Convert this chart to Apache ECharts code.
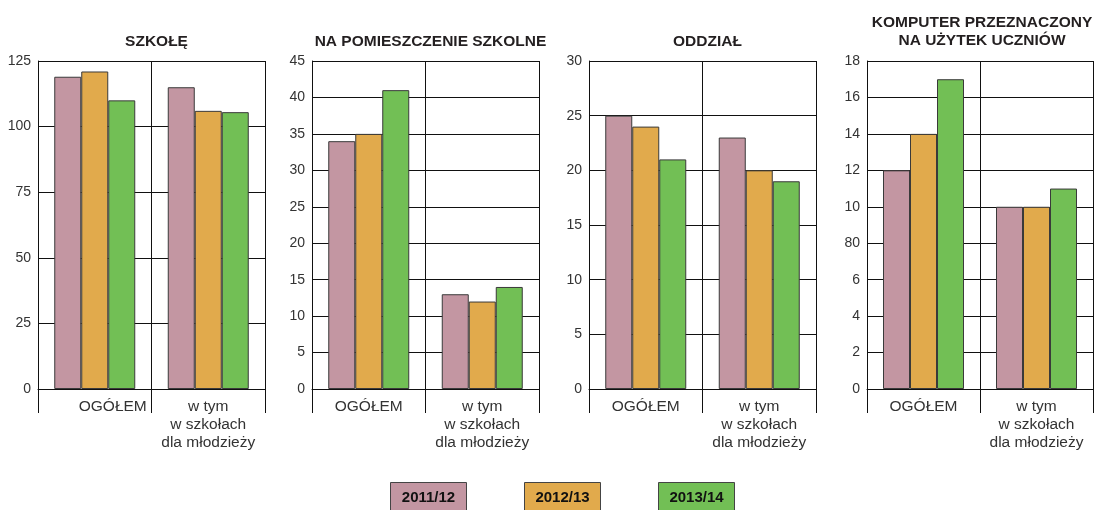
<!DOCTYPE html>
<html>
<head>
<meta charset="utf-8">
<script src="https://cdn.jsdelivr.net/npm/echarts@6/dist/echarts.min.js"></script>
<style>
  html, body { margin: 0; padding: 0; background: #fff; }
  #chart { width: 1101px; height: 510px; }
</style>
</head>
<body>
<div id="chart"></div>
<script>
// dane
const years = ['2011/12', '2012/13', '2013/14']
const categories = ['OGÓŁEM', 'w tym\nw szkołach\ndla młodzieży']
const titles = ['SZKOŁĘ', 'NA POMIESZCZENIE SZKOLNE', 'ODDZIAŁ', 'KOMPUTER PRZEZNACZONY\nNA UŻYTEK UCZNIÓW']

const szkole = [[119, 115], [121, 106], [110, 105.5]]
const pomieszczenie = [[34, 13], [35, 12], [41, 14]]
const oddzial = [[25, 23], [24, 20], [21, 19]]
const komputer = [[12, 10], [14, 10], [17, 11]]

const yMax = [125, 45, 30, 18]
const yStep = [25, 5, 5, 2]
// w oryginale przy 8 jest "80"
const komputerTicks = ['0', '2', '4', '6', '80', '10', '12', '14', '16', '18']

const colors = ['#c396a2', '#e1aa4c', '#72bf55']
const panelData = [szkole, pomieszczenie, oddzial, komputer]
const gridLeft = [38, 312, 589, 867]
const gridWidth = [227, 227, 227, 226]

const font = 'Liberation Sans, Arial, sans-serif'

const grids = [], xAxes = [], yAxes = [], series = [], titleList = []

panelData.forEach((data, p) => {
  grids.push({ left: gridLeft[p], top: 61, width: gridWidth[p], height: 328, show: false })
  titleList.push({
    text: titles[p],
    left: gridLeft[p] + gridWidth[p] / 2 - (p === 3 ? 3 : 0),
    top: p === 3 ? 9 : 28,
    textAlign: 'center',
    textStyle: { fontFamily: font, fontSize: 15.5, fontWeight: 'bold', color: '#231f20', lineHeight: 18 }
  })
  xAxes.push({
    type: 'category',
    gridIndex: p,
    data: categories.map((c, i) => (p === 0 && i === 0)
      ? { value: c, textStyle: { padding: [0, 0, 0, 36] } }
      : c),
    axisLine: { lineStyle: { color: '#111', width: 1 } },
    axisTick: { show: true, length: 24, lineStyle: { color: '#111' } },
    splitLine: { show: true, lineStyle: { color: '#111', width: 1 } },
    axisLabel: { fontFamily: font, fontSize: 15.5, color: '#333', margin: 9, lineHeight: 18, interval: 0 }
  })
  yAxes.push({
    type: 'value',
    gridIndex: p,
    min: 0,
    max: yMax[p],
    interval: yStep[p],
    axisLine: { show: true, lineStyle: { color: '#111', width: 1 } },
    axisTick: { show: false },
    splitLine: { show: true, lineStyle: { color: '#111', width: 1 } },
    axisLabel: {
      fontFamily: font, fontSize: 14, color: '#333', margin: 7,
      formatter: p === 3 ? (v) => komputerTicks[Math.round(v / 2)] : null
    }
  })
  data.forEach((vals, s) => {
    series.push({
      name: years[s],
      type: 'bar',
      xAxisIndex: p,
      yAxisIndex: p,
      data: vals,
      barWidth: 27,
      barGap: '0%',
      itemStyle: { color: colors[s], borderColor: '#3a3a3a', borderWidth: 1 },
      emphasis: { disabled: true }
    })
  })
})

// legenda jako prostokaty z tekstem
const legendX = [390, 524, 658]
const graphic = years.map((y, i) => ({
  type: 'group',
  left: legendX[i],
  top: 482,
  children: [
    { type: 'rect', shape: { x: 0, y: 0, width: 76, height: 28 }, style: { fill: colors[i], stroke: '#444', lineWidth: 1 } },
    { type: 'text', x: 38, y: 15, style: { text: y, fill: '#111', font: 'bold 15px ' + font, textAlign: 'center', textVerticalAlign: 'middle' } }
  ]
}))

const chart = echarts.init(document.getElementById('chart'))
chart.setOption({
  animation: false,
  title: titleList,
  grid: grids,
  xAxis: xAxes,
  yAxis: yAxes,
  series: series,
  graphic: graphic
})
</script>
</body>
</html>
